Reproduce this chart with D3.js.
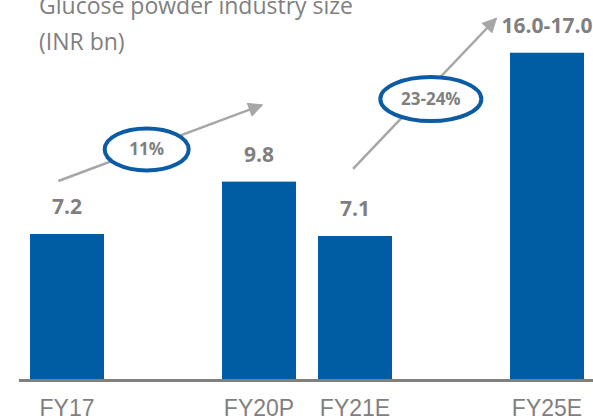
<!DOCTYPE html>
<html>
<head>
<meta charset="utf-8">
<script src="https://cdn.jsdelivr.net/npm/d3@7"></script>
<style>
  body { margin: 0; background: #fff; }
  svg { display: block; }
</style>
</head>
<body>
<svg id="chart" width="593" height="418"></svg>
<script>
// slots on the time axis, empty ones keep the spacing between years
var slots = ["FY17", "s1", "FY20P", "FY21E", "s2", "FY25E"];
var categories = ["FY17", "FY20P", "FY21E", "FY25E"];
var values = [7.2, 9.8, 7.1, 16.2];
var valueLabels = ["7.2", "9.8", "7.1", "16.0-17.0"];

// growth annotations: slot index position and value for tail/tip + bubble
var growthLabels = ["11%", "23-24%"];
var arrowFrom = [[-0.09, 9.83], [2.98, 10.43]];
var arrowTo = [[2.03, 13.6], [4.47, 17.9]];
var bubbleAt = [[0.83, 11.4], [3.79, 13.9]];
var bubbleR = [[42, 21], [50.5, 22]];

var titleLines = ["Glucose powder industry size", "(INR bn)"];

var svg = d3.select('#chart');

var x = d3.scaleBand().domain(slots).range([19, 595]).paddingInner(22 / 96).paddingOuter(11 / 96);
var xi = d3.scaleLinear().domain([0, 1]).range([19 + 48, 19 + 48 + 96]);
var y = d3.scaleLinear().domain([0, 18]).range([379, 379 - 18 * 20.14]);

var blue = "#005DA4";
var grey = "#7F7F7F";

var defs = svg.append("defs");
defs.append("marker")
  .attr("id", "arrowhead")
  .attr("viewBox", "0 0 10 10")
  .attr("refX", 9)
  .attr("refY", 5)
  .attr("markerWidth", 6.5)
  .attr("markerHeight", 6)
  .attr("markerUnits", "strokeWidth")
  .attr("orient", "auto")
  .append("path")
  .attr("d", "M0,0 L10,5 L0,10 z")
  .attr("fill", "#A6A6A6");

// title
svg.append("g").selectAll("text")
  .data(titleLines)
  .join("text")
  .attr("x", 39)
  .attr("y", (d, i) => 14 + i * 36)
  .attr("font-family", "'Open Sans', sans-serif")
  .attr("font-size", "23px")
  .attr("fill", grey)
  .text(d => d);

// bars
svg.append("g").selectAll("rect")
  .data(categories)
  .join("rect")
  .attr("x", d => x(d))
  .attr("width", x.bandwidth())
  .attr("y", (d, i) => y(values[i]))
  .attr("height", (d, i) => y(0) - y(values[i]))
  .attr("fill", blue);

// baseline
svg.append("line")
  .attr("x1", 19)
  .attr("x2", 593)
  .attr("y1", y(0) + 1.5)
  .attr("y2", y(0) + 1.5)
  .attr("stroke", "#808080")
  .attr("stroke-width", 3);

// value labels
svg.append("g").selectAll("text")
  .data(categories)
  .join("text")
  .attr("x", d => x(d) + x.bandwidth() / 2)
  .attr("y", (d, i) => y(values[i]) - 20)
  .attr("text-anchor", "middle")
  .attr("font-family", "'Open Sans', sans-serif")
  .attr("font-weight", 700)
  .attr("font-size", "21px")
  .attr("fill", grey)
  .text((d, i) => valueLabels[i]);

// category labels
svg.append("g").selectAll("text")
  .data(categories)
  .join("text")
  .attr("x", d => x(d) + x.bandwidth() / 2)
  .attr("y", 415.5)
  .attr("text-anchor", "middle")
  .attr("font-family", "'Liberation Sans', Arial, sans-serif")
  .attr("font-size", "23px")
  .attr("fill", grey)
  .text(d => d);

// growth arrows
svg.append("g").selectAll("line")
  .data(growthLabels)
  .join("line")
  .attr("x1", (d, i) => xi(arrowFrom[i][0]))
  .attr("y1", (d, i) => y(arrowFrom[i][1]))
  .attr("x2", (d, i) => xi(arrowTo[i][0]))
  .attr("y2", (d, i) => y(arrowTo[i][1]))
  .attr("stroke", "#A6A6A6")
  .attr("stroke-width", 2.5)
  .attr("marker-end", "url(#arrowhead)");

// growth bubbles
var bub = svg.append("g").selectAll("g")
  .data(growthLabels)
  .join("g")
  .attr("transform", (d, i) => "translate(" + xi(bubbleAt[i][0]) + "," + y(bubbleAt[i][1]) + ")");

bub.append("ellipse")
  .attr("rx", (d, i) => bubbleR[i][0])
  .attr("ry", (d, i) => bubbleR[i][1])
  .attr("fill", "#fff")
  .attr("stroke", "#0B5CA5")
  .attr("stroke-width", 4);

bub.append("text")
  .attr("y", 6)
  .attr("text-anchor", "middle")
  .attr("font-family", "'Open Sans', sans-serif")
  .attr("font-weight", 700)
  .attr("font-size", "17px")
  .attr("fill", grey)
  .text(d => d);
</script>
</body>
</html>
